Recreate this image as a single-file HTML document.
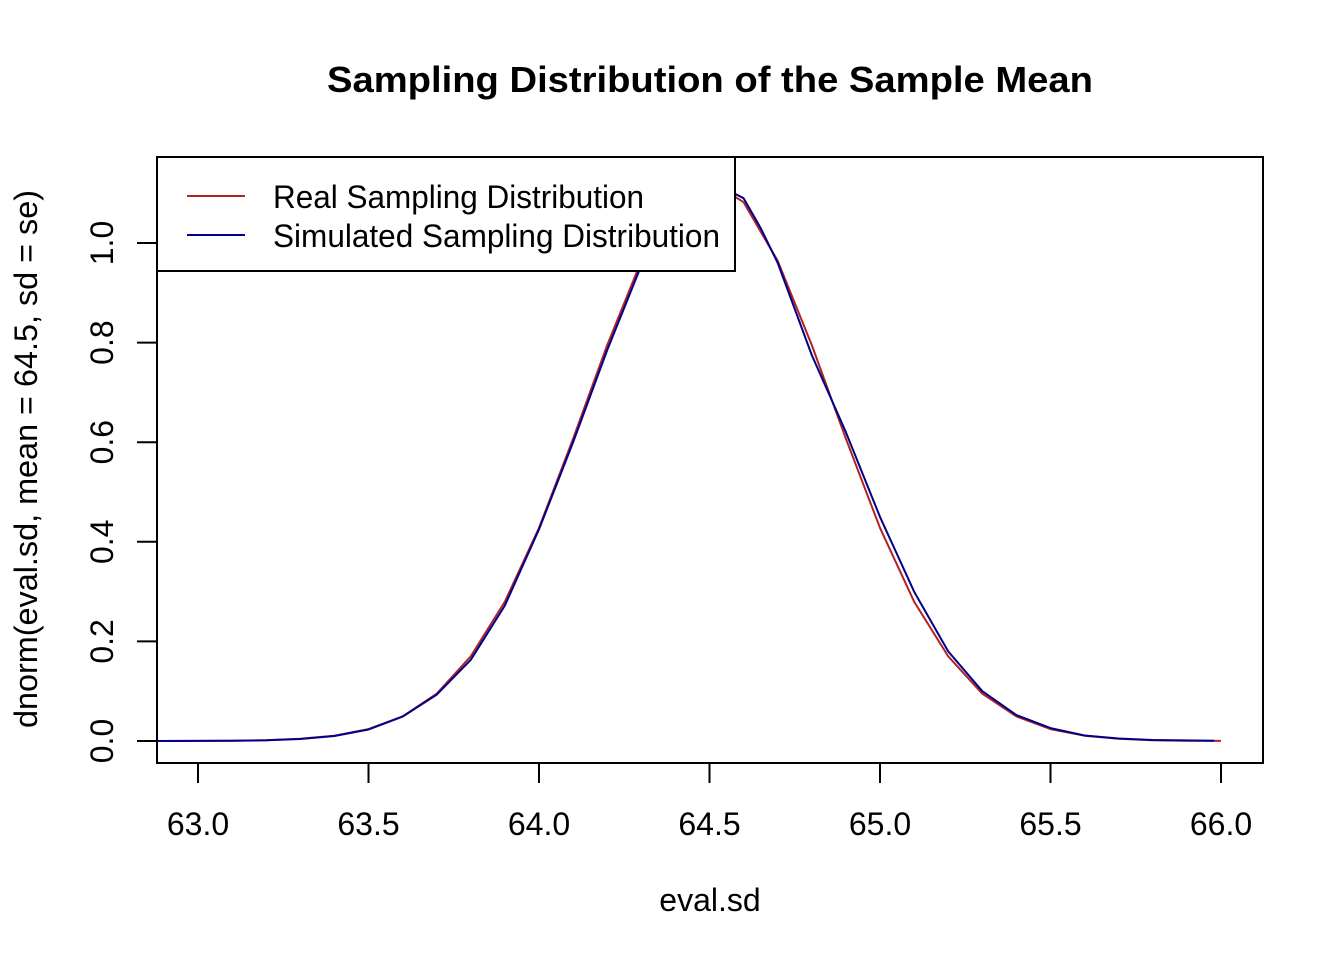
<!DOCTYPE html>
<html><head><meta charset="utf-8"><style>
html,body{margin:0;padding:0;background:#fff;}
svg{display:block;font-family:"Liberation Sans",Arial,sans-serif;}
</style></head><body>
<svg id="chart" width="1344" height="960" viewBox="0 0 1344 960">
<text x="710" y="92" text-anchor="middle" font-size="36" font-weight="bold" textLength="766" lengthAdjust="spacingAndGlyphs">Sampling Distribution of the Sample Mean</text>
<g id="axes"></g>
<g id="series"></g>
<rect x="157" y="157" width="1106" height="606" fill="none" stroke="#000" stroke-width="2"/>
<g>
<rect x="157" y="157" width="578" height="114" fill="#fff" stroke="#000" stroke-width="2"/>
<line x1="187" y1="196" x2="245" y2="196" stroke="#b22222" stroke-width="2"/>
<text x="273" y="208" font-size="32" textLength="371" lengthAdjust="spacingAndGlyphs">Real Sampling Distribution</text>
<line x1="187" y1="235" x2="245" y2="235" stroke="#00008b" stroke-width="2"/>
<text x="273" y="247" font-size="32" textLength="447" lengthAdjust="spacingAndGlyphs">Simulated Sampling Distribution</text>
</g>
<text x="710" y="911" text-anchor="middle" font-size="32">eval.sd</text>
<text transform="translate(37,459) rotate(-90)" text-anchor="middle" font-size="32" textLength="538" lengthAdjust="spacingAndGlyphs">dnorm(eval.sd, mean = 64.5, sd = se)</text>
</svg>
<script>
const xTicks = [63.0, 63.5, 64.0, 64.5, 65.0, 65.5, 66.0];
const xTickLabels = ["63.0","63.5","64.0","64.5","65.0","65.5","66.0"];
const yTicks = [0, 0.2, 0.4, 0.6, 0.8, 1.0];
const yTickLabels = ["0.0","0.2","0.4","0.6","0.8","1.0"];
const realX = [62.88,63.0,63.1,63.2,63.3,63.4,63.5,63.6,63.7,63.8,63.9,64.0,64.1,64.2,64.3,64.4,64.5,64.6,64.7,64.8,64.9,65.0,65.1,65.2,65.3,65.4,65.5,65.6,65.7,65.8,65.9,66.0];
const realY = [0.0001,0.0002,0.0006,0.0016,0.0044,0.0106,0.0238,0.0494,0.095,0.170,0.280,0.428,0.607,0.795,0.964,1.082,1.125,1.082,0.964,0.795,0.607,0.428,0.280,0.170,0.095,0.0494,0.0238,0.0106,0.0044,0.0016,0.0006,0.0002];
const simX = [62.88,63.0,63.1,63.2,63.3,63.4,63.5,63.6,63.7,63.8,63.9,64.0,64.1,64.2,64.3,64.4,64.5,64.6,64.65,64.7,64.8,64.9,65.0,65.1,65.2,65.3,65.4,65.5,65.6,65.7,65.8,65.98];
const simY = [0.0001,0.0002,0.0005,0.0014,0.0040,0.0100,0.0230,0.0490,0.093,0.163,0.272,0.425,0.600,0.785,0.955,1.075,1.125,1.090,1.030,0.960,0.775,0.620,0.450,0.300,0.180,0.100,0.052,0.026,0.011,0.005,0.002,0.0004];

const NS = "http://www.w3.org/2000/svg";
const xs = v => 198 + (v - 63.0) * 341;
const ys = v => 741 - v * 498;
const axes = document.getElementById('axes');
const series = document.getElementById('series');
function mk(tag, attrs, parent){const e=document.createElementNS(NS,tag);for(const k in attrs)e.setAttribute(k,attrs[k]);parent.appendChild(e);return e;}

xTicks.forEach((t,i)=>{
  const l = mk('line',{x1:xs(t),x2:xs(t),y1:763,y2:783,stroke:'#000','stroke-width':2},axes);
  
  
  const tx = mk('text',{x:xs(t),y:835,'text-anchor':'middle','font-size':32},axes);
  tx.textContent = xTickLabels[i];
  
  
});
yTicks.forEach((t,i)=>{
  const l = mk('line',{x1:137,x2:157,y1:ys(t),y2:ys(t),stroke:'#000','stroke-width':2},axes);
  
  
  const tx = mk('text',{transform:`translate(113,${ys(t)}) rotate(-90)`,'text-anchor':'middle','font-size':32},axes);
  tx.textContent = yTickLabels[i];
  
  
});
function line(X,Y,color,name){
  const pts = X.map((x,i)=>xs(x).toFixed(1)+','+ys(Y[i]).toFixed(1)).join(' ');
  const p = mk('polyline',{points:pts,fill:'none',stroke:color,'stroke-width':2,'stroke-linejoin':'round'},series);
  
  
}
line(realX,realY,'#b22222','real-distribution-line');
line(simX,simY,'#00008b','simulated-distribution-line');
</script>
</body></html>
